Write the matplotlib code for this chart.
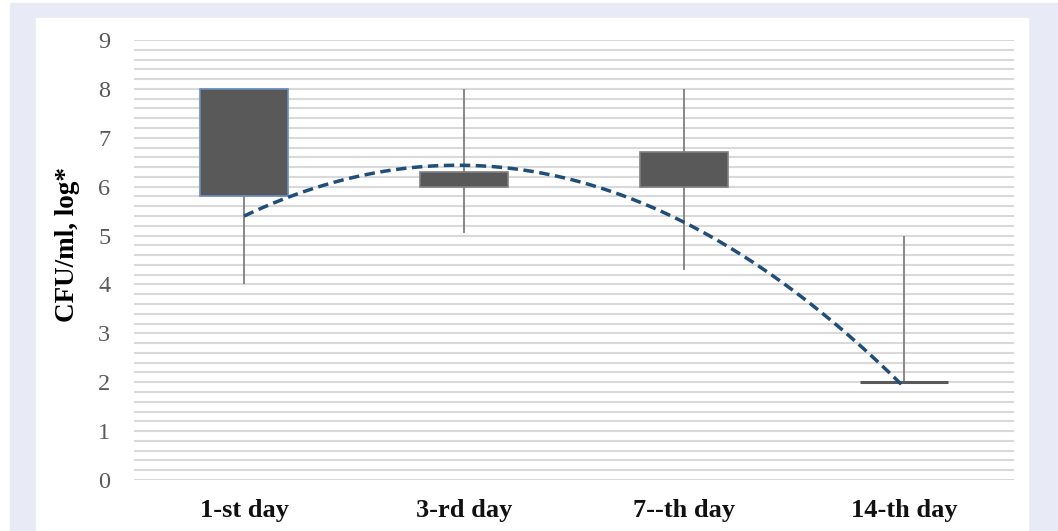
import numpy as np
import matplotlib
matplotlib.use("Agg")
import matplotlib.pyplot as plt
from matplotlib.patches import Rectangle

# data
days = ["1-st day", "3-rd day", "7--th day", "14-th day"]
box_low = [5.8, 6.0, 6.0, 2.0]
box_high = [8.0, 6.3, 6.7, 2.0]
whisk_min = [4.0, 5.05, 4.3, 2.0]
whisk_max = [8.0, 8.0, 8.0, 5.0]
trend_vals = [5.4, 6.43, 5.28, 1.9]

plt.rcParams["font.family"] = ["Liberation Serif", "DejaVu Serif"]

W, H = 1058, 531
fig = plt.figure(figsize=(W / 100, H / 100), dpi=100)
fig.patch.set_facecolor("white")

# lavender frame and white panel
fig.patches.append(Rectangle((10 / W, 0), (W - 10) / W, (H - 3) / H,
                             transform=fig.transFigure, color="#E8EBF5", zorder=-10))
fig.patches.append(Rectangle((36 / W, 0), (1028 - 36) / W, (H - 18) / H,
                             transform=fig.transFigure, color="white", zorder=-9))

ax = fig.add_axes([134 / W, 1 - 480 / H, (1014 - 134) / W, 440 / H])
ax.set_facecolor("none")

x = np.arange(1, len(days) + 1)

# grid every 0.2
for g in np.arange(0, 9.01, 0.2):
    ax.axhline(g, color="#D9D9D9", lw=1.5, zorder=0)

ax.vlines(x, whisk_min, whisk_max, color="#7F7F7F", lw=1.3, zorder=2)

edge_cols = ["#6A8CC0", "#7F7F7F", "#7F7F7F", "#595959"]
heights = [h - l for h, l in zip(box_high, box_low)]
for xi, lo, hh, ec in zip(x, box_low, heights, edge_cols):
    if hh > 0:
        ax.bar(xi, hh, bottom=lo, width=0.4, color="#595959", edgecolor=ec,
               linewidth=1.2, zorder=3)
    else:
        ax.hlines(lo, xi - 0.2, xi + 0.2, color="#595959", lw=2.2, zorder=3)

# polynomial (2nd order) trendline
coef = np.polyfit(x, trend_vals, 2)
xs = np.linspace(1, 4, 200)
ax.plot(xs, np.polyval(coef, xs), color="#1F4E79", lw=2.5,
        linestyle=(0, (3, 1.6)), zorder=4)

ax.set_xlim(0.5, 4.5)
ax.set_ylim(0, 9)
ax.set_yticks(range(0, 10))
ax.set_xticks(x)
ax.set_xticklabels(days, fontsize=19, fontweight="bold", color="#111111")
for s in ax.spines.values():
    s.set_visible(False)
ax.tick_params(axis="both", length=0)
ax.tick_params(axis="y", labelsize=17.5, labelcolor="#595959", pad=17)
ax.tick_params(axis="x", pad=14)

fig.text(67 / W, 1 - 244 / H, "CFU/ml, log*", rotation=90, ha="center",
         va="center", fontsize=19.5, fontweight="bold")

fig.savefig("out.png", dpi=100)
